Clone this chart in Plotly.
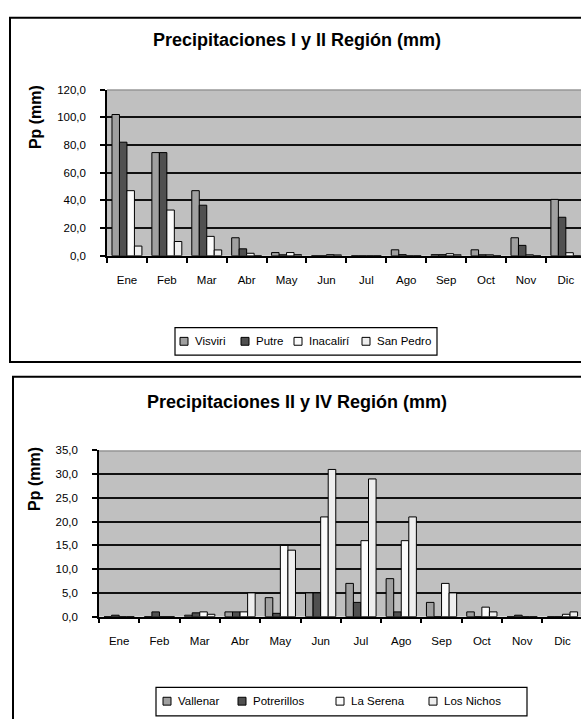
import plotly.graph_objects as go

W, H = 581, 719

meses = ["Ene", "Feb", "Mar", "Abr", "May", "Jun", "Jul", "Ago", "Sep", "Oct", "Nov", "Dic"]

# Precipitaciones I y II Región (mm)
visviri = [102.0, 74.5, 47.0, 13.0, 2.3, 0.0, 0.0, 4.3, 0.8, 4.3, 13.0, 40.7]
putre = [82.0, 74.5, 36.5, 5.0, 0.7, 0.0, 0.0, 0.8, 0.8, 0.7, 7.5, 27.8]
inacaliri = [47.0, 33.0, 14.0, 1.8, 2.3, 0.8, 0.0, 0.0, 1.5, 0.7, 0.7, 2.2]
san_pedro = [7.0, 10.3, 4.2, 0.0, 0.8, 0.6, 0.0, 0.0, 0.7, 0.0, 0.0, 0.0]

# Precipitaciones II y IV Región (mm)
vallenar = [0.0, 0.0, 0.3, 1.0, 4.0, 5.0, 7.0, 8.0, 3.0, 1.0, 0.0, 0.0]
potrerillos = [0.3, 1.0, 0.8, 1.0, 0.7, 5.0, 3.0, 1.0, 0.0, 0.0, 0.3, 0.0]
la_serena = [0.0, 0.0, 1.0, 1.0, 15.0, 21.0, 16.0, 16.0, 7.0, 2.0, 0.0, 0.5]
los_nichos = [0.0, 0.0, 0.5, 5.0, 14.0, 31.0, 29.0, 21.0, 5.0, 1.0, 0.0, 1.0]

series_top = [("Visviri", visviri), ("Putre", putre), ("Inacalirí", inacaliri), ("San Pedro", san_pedro)]
series_bot = [("Vallenar", vallenar), ("Potrerillos", potrerillos), ("La Serena", la_serena), ("Los Nichos", los_nichos)]

colores = ["#a0a0a0", "#505050", "#fbfbfb", "#eeeeee"]
FONT = "Arial, 'Liberation Sans', sans-serif"


def px(x):
    return x / W


def py(y):
    return 1 - y / H


fig = go.Figure()

for (nombre, vals), c in zip(series_top, colores):
    fig.add_trace(go.Bar(x=meses, y=vals, name=nombre, xaxis="x", yaxis="y",
                         marker=dict(color=c, line=dict(color="black", width=1)),
                         showlegend=False))
for (nombre, vals), c in zip(series_bot, colores):
    fig.add_trace(go.Bar(x=meses, y=vals, name=nombre, xaxis="x2", yaxis="y2",
                         marker=dict(color=c, line=dict(color="black", width=1)),
                         showlegend=False))

eje_x = dict(type="category", tickson="boundaries", ticks="outside", ticklen=5,
             tickcolor="black", tickwidth=1.5, showline=True, linecolor="black", linewidth=1.5,
             showgrid=False, ticklabelstandoff=13, tickfont=dict(size=11.5))
eje_y = dict(ticks="outside", ticklen=5, tickcolor="black", tickwidth=1.5, showline=True,
             linecolor="black", linewidth=1.5, showgrid=True, gridcolor="#111111",
             gridwidth=1.6, zeroline=False, tickformat=".1f", ticklabelstandoff=12,
             tickfont=dict(size=11.5))

fig.update_layout(
    width=W, height=H,
    margin=dict(l=0, r=0, t=0, b=0),
    paper_bgcolor="white",
    plot_bgcolor="#c0c0c0",
    font=dict(family=FONT, color="black", size=11.5),
    separators=",.",
    barmode="group",
    bargap=0.25,
    bargroupgap=0,
    xaxis=dict(eje_x, domain=[px(107), 1], range=[-0.5, 11.38], anchor="y"),
    yaxis=dict(eje_y, domain=[py(254), py(85)], range=[0, 120], dtick=20, anchor="x"),
    xaxis2=dict(eje_x, domain=[px(99), 1], range=[-0.5, 11.46], anchor="y2"),
    yaxis2=dict(eje_y, domain=[py(621), py(452)], range=[0, 35], dtick=5, anchor="x2"),
)

shapes = [
    # marcos de cada grafico
    dict(type="rect", xref="paper", yref="paper", x0=px(10), x1=px(620), y0=py(12), y1=py(362),
         line=dict(color="black", width=2), layer="above"),
    dict(type="rect", xref="paper", yref="paper", x0=px(13), x1=px(620), y0=py(377), y1=py(760),
         line=dict(color="black", width=2), layer="above"),
    # borde superior gris del area de trazado
    dict(type="line", xref="x domain", yref="y", x0=0, x1=1, y0=120, y1=120,
         line=dict(color="#808080", width=2)),
    dict(type="line", xref="x2 domain", yref="y2", x0=0, x1=1, y0=35, y1=35,
         line=dict(color="#808080", width=2)),
    # cajas de leyenda
    dict(type="rect", xref="paper", yref="paper", x0=px(175), x1=px(437), y0=py(327), y1=py(355),
         line=dict(color="black", width=1.2), fillcolor="white"),
    dict(type="rect", xref="paper", yref="paper", x0=px(156), x1=px(527), y0=py(693), y1=py(722),
         line=dict(color="black", width=1.2), fillcolor="white"),
]

annotations = [
    dict(text="<b>Precipitaciones I y II Región (mm)</b>", x=px(297), y=py(35),
         font=dict(size=18)),
    dict(text="<b>Precipitaciones II y IV Región (mm)</b>", x=px(297), y=py(403),
         font=dict(size=18)),
    dict(text="<b>Pp (mm)</b>", x=px(35), y=py(113), textangle=-90, font=dict(size=16)),
    dict(text="<b>Pp (mm)</b>", x=px(35), y=py(481), textangle=-90, font=dict(size=16)),
]
for a in annotations:
    a.update(xref="paper", yref="paper", showarrow=False, xanchor="center", yanchor="middle")

# leyendas dibujadas a mano (cuadro + texto)
leyendas = [(series_top, [180, 241, 294, 362], 341), (series_bot, [163, 238, 336, 429], 707)]
for series, xs, yc in leyendas:
    for (nombre, _), c, x0 in zip(series, colores, xs):
        shapes.append(dict(type="rect", xref="paper", yref="paper",
                           x0=px(x0), x1=px(x0 + 8), y0=py(yc - 4), y1=py(yc + 4),
                           fillcolor=c, line=dict(color="black", width=1)))
        annotations.append(dict(text=nombre, xref="paper", yref="paper", x=px(x0 + 13), y=py(yc),
                                xanchor="left", yanchor="middle", showarrow=False,
                                font=dict(size=11.5)))

fig.update_layout(shapes=shapes, annotations=annotations)

# sin el margen por defecto del <body>, la figura queda en (0,0)
fig.write_html("out.html", config={"displayModeBar": False},
               post_script="document.body.style.margin='0';")
